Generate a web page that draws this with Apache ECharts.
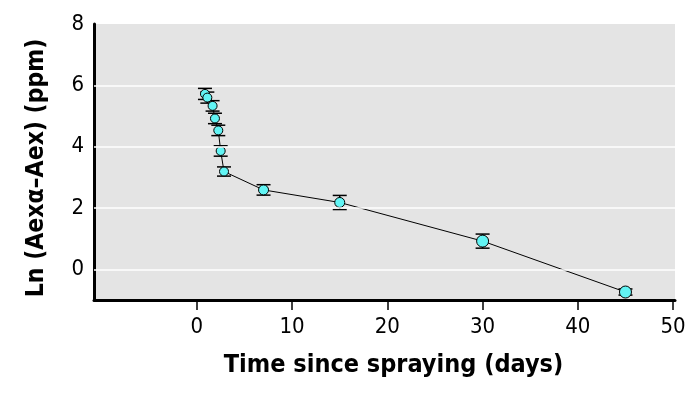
<!DOCTYPE html>
<html>
<head>
<meta charset="utf-8">
<script src="https://cdn.jsdelivr.net/npm/echarts@6/dist/echarts.min.js"></script>
<style>
  html, body { margin: 0; padding: 0; background: #fff; }
  #chart { width: 697px; height: 395px; }
</style>
</head>
<body>
<div id="chart"></div>
<script>
  // values
  const days = [0.85, 1.1, 1.65, 1.9, 2.25, 2.5, 2.85, 7, 15, 30, 45];
  const lnConc = [5.72, 5.6, 5.33, 4.92, 4.53, 3.86, 3.19, 2.59, 2.18, 0.92, -0.74];
  const errBar = [0.18, 0.18, 0.17, 0.17, 0.17, 0.17, 0.15, 0.17, 0.23, 0.23, 0.1];
  const xTicks = [0, 10, 20, 30, 40, 50];
  const yTicks = [0, 2, 4, 6, 8];
  const gridYs = [0, 2, 4, 6];

  const narrow = '"Liberation Sans Narrow", "DejaVu Sans Condensed", sans-serif';

  const chart = echarts.init(document.getElementById('chart'), null, { renderer: 'canvas' });

  const points = days.map((d, i) => [d, lnConc[i]]);
  const bars = days.map((d, i) => [d, lnConc[i] - errBar[i], lnConc[i] + errBar[i]]);

  chart.setOption({
    animation: false,
    grid: {
      left: 94, top: 24, right: 22, bottom: 95,
      show: true,
      backgroundColor: '#e4e4e4',
      borderWidth: 0
    },
    xAxis: {
      type: 'value',
      min: -10.8,
      max: 50.2,
      name: 'Time since spraying (days)',
      nameLocation: 'middle',
      nameGap: 53,
      nameTextStyle: { fontFamily: narrow, fontWeight: 'bold', fontSize: 25, color: '#000', padding: [0, 0, 0, 18] },
      axisLine: { show: true, onZero: false, lineStyle: { color: '#000', width: 3 } },
      axisTick: { show: true, customValues: xTicks, length: 10, lineStyle: { color: '#000', width: 1.5 } },
      axisLabel: { customValues: xTicks, fontFamily: narrow, fontSize: 22, color: '#000', margin: 16 },
      splitLine: { show: false }
    },
    yAxis: {
      type: 'value',
      min: -1,
      max: 8,
      name: 'Ln (Aexα–Aex) (ppm)',
      nameLocation: 'middle',
      nameRotate: 90,
      nameGap: 45,
      nameTextStyle: { fontFamily: narrow, fontWeight: 'bold', fontSize: 24.5, color: '#000', padding: [0, 12, 0, 0] },
      axisLine: { show: true, onZero: false, lineStyle: { color: '#000', width: 3 } },
      axisTick: { show: false },
      axisLabel: { customValues: yTicks, fontFamily: narrow, fontSize: 22, color: '#000', margin: 10 },
      splitLine: { show: false }
    },
    series: [
      {
        // white horizontal gridlines
        type: 'line',
        data: [],
        z: 1,
        silent: true,
        markLine: {
          silent: true,
          symbol: 'none',
          label: { show: false },
          lineStyle: { color: '#ffffff', width: 1.5, type: 'solid' },
          data: gridYs.map(v => ({ yAxis: v }))
        }
      },
      {
        type: 'custom',
        z: 2,
        silent: true,
        data: bars,
        renderItem: function (params, api) {
          const x = api.value(0);
          const lo = api.coord([x, api.value(1)]);
          const hi = api.coord([x, api.value(2)]);
          const cap = 7;
          const style = { stroke: '#000', lineWidth: 1.5 };
          return {
            type: 'group',
            children: [
              { type: 'line', shape: { x1: lo[0], y1: lo[1], x2: hi[0], y2: hi[1] }, style: style },
              { type: 'line', shape: { x1: lo[0] - cap, y1: lo[1], x2: lo[0] + cap, y2: lo[1] }, style: style },
              { type: 'line', shape: { x1: hi[0] - cap, y1: hi[1], x2: hi[0] + cap, y2: hi[1] }, style: style }
            ]
          };
        }
      },
      {
        type: 'line',
        z: 3,
        data: points,
        symbol: 'circle',
        symbolSize: function (val, params) {
          return params.dataIndex >= 9 ? 12 : (params.dataIndex >= 7 ? 10 : 9);
        },
        lineStyle: { color: '#000', width: 1 },
        itemStyle: { color: '#62f4f4', borderColor: '#000', borderWidth: 1 }
      }
    ]
  });
</script>
</body>
</html>
